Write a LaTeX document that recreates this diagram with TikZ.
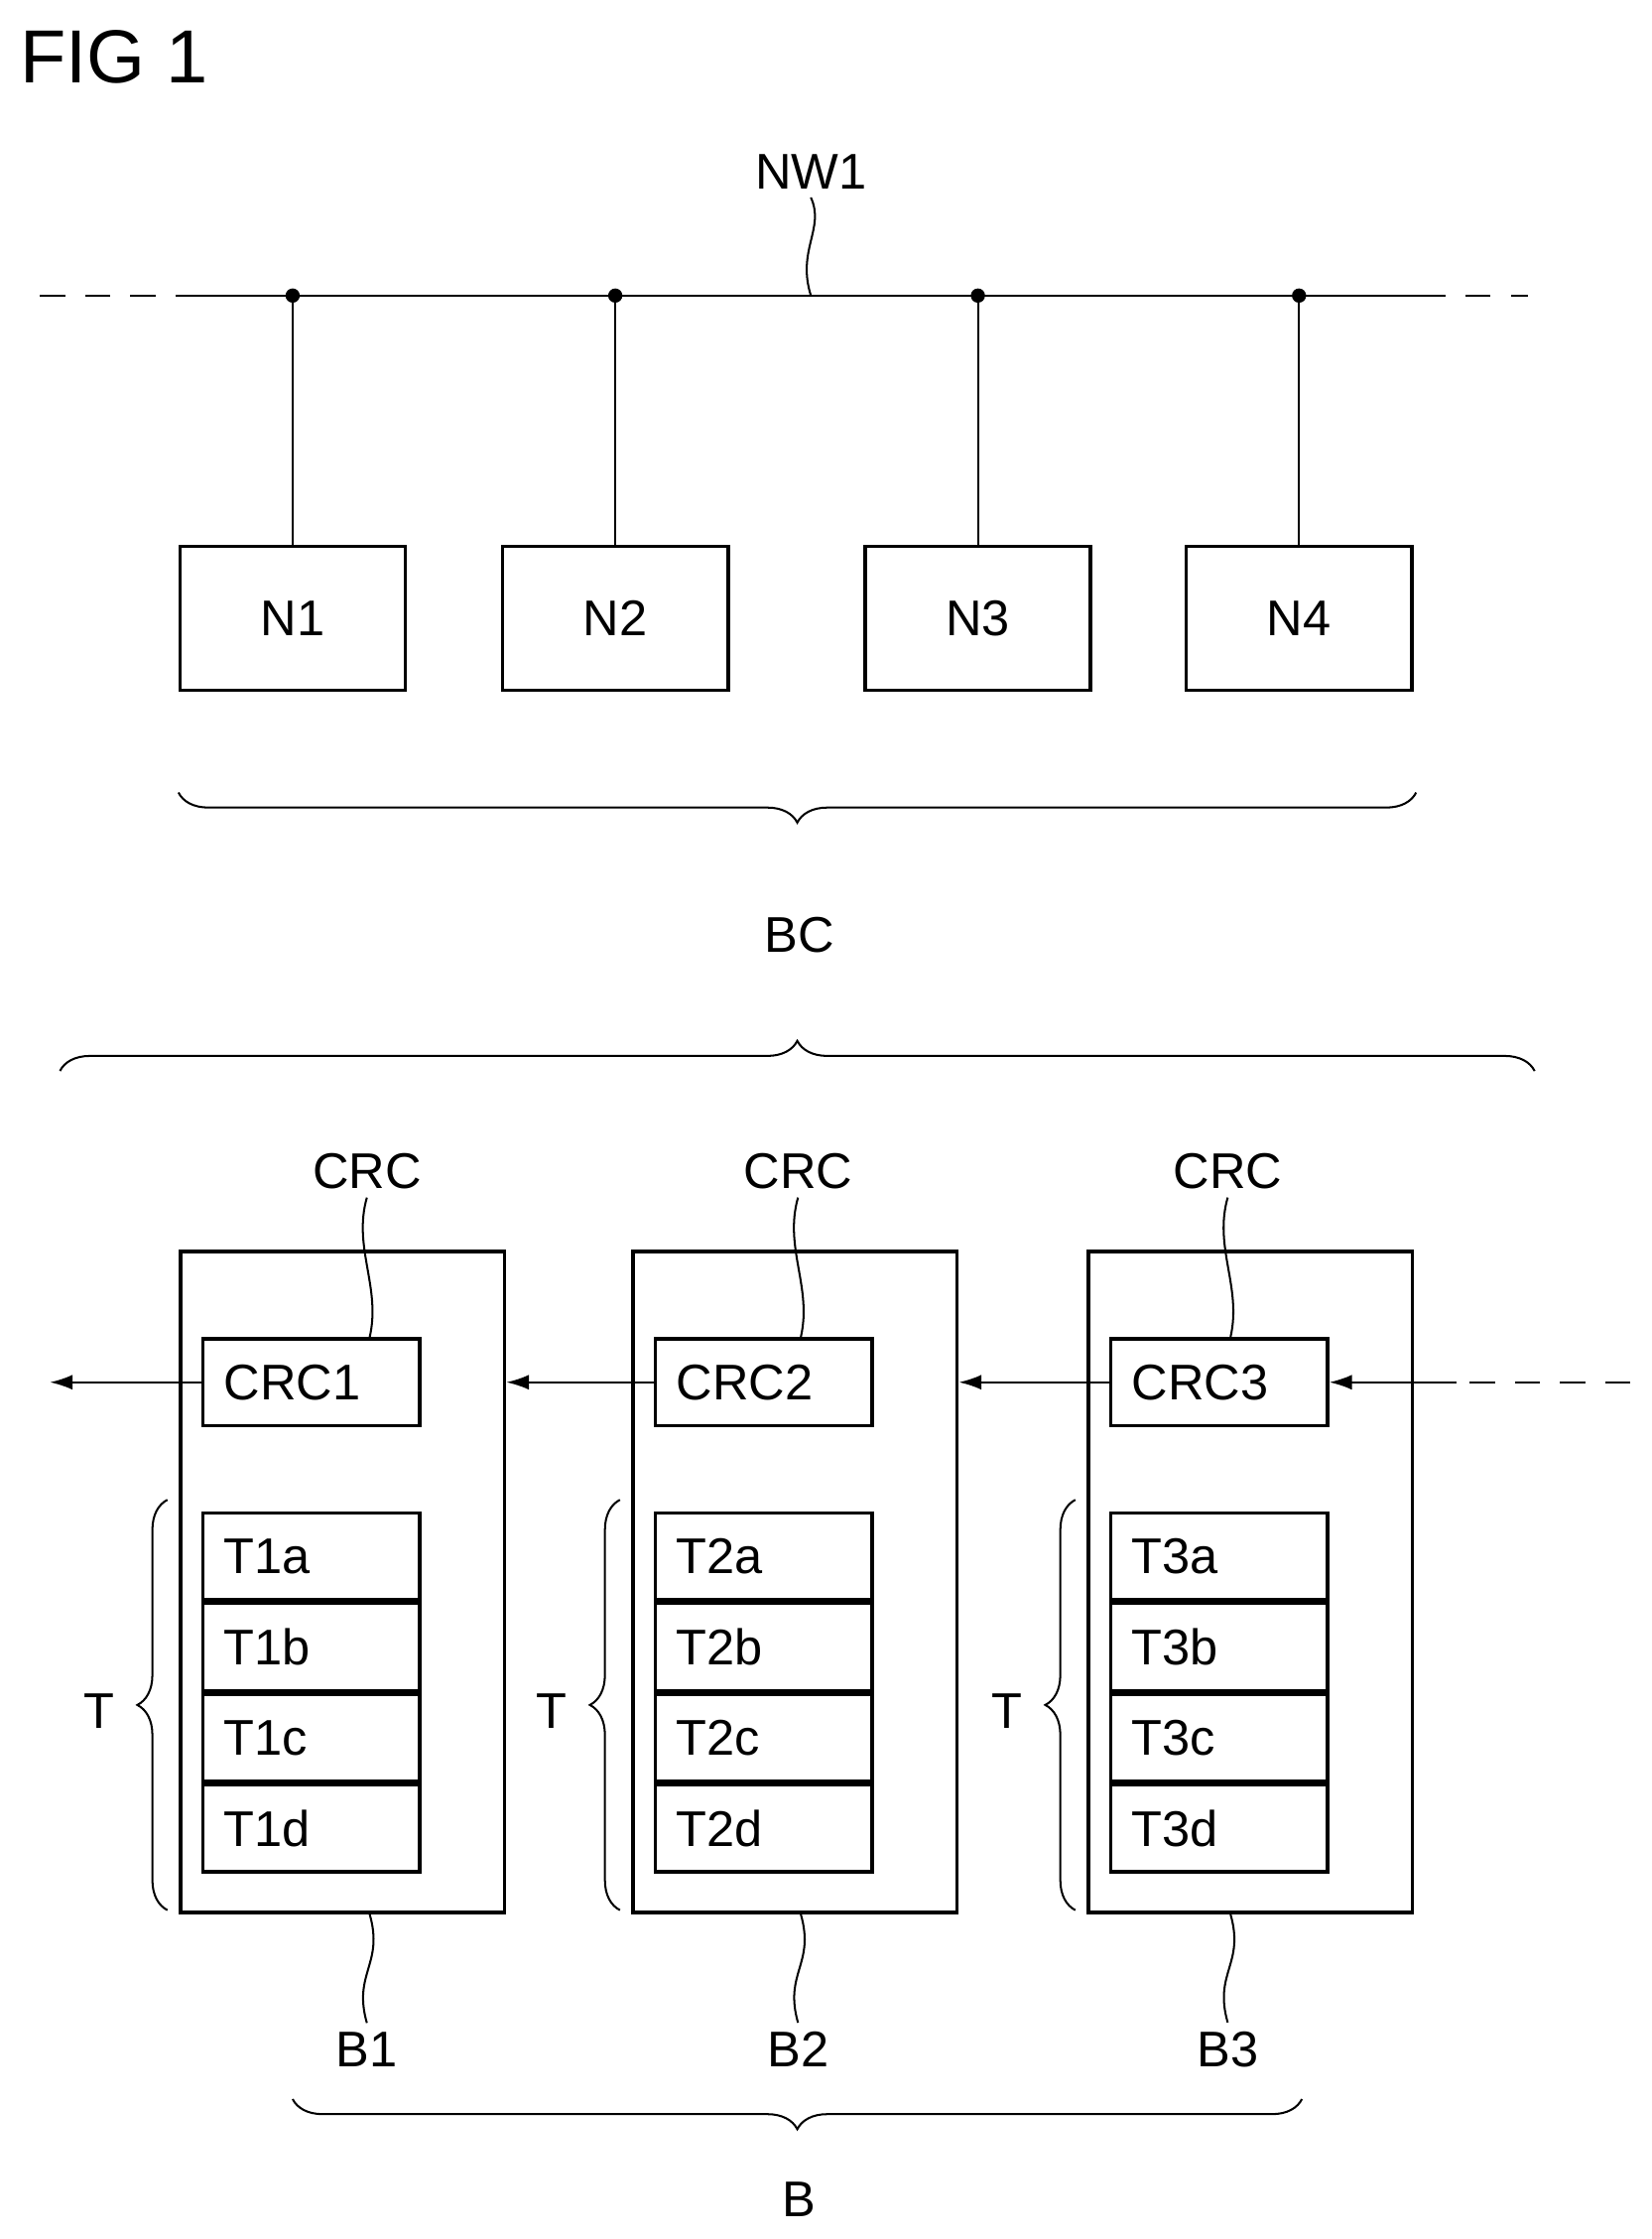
\documentclass[tikz,border=0pt]{standalone}
\usepackage{fontspec}
\setmainfont{Liberation Sans}
\usetikzlibrary{positioning, calc, decorations.pathreplacing, arrows.meta}

\begin{document}
\begin{tikzpicture}[x=0.02cm, y=-0.02cm,
    every node/.style={font=\fontsize{20}{24}\selectfont},
    nbox/.style={rectangle, draw, line width=1.4pt, minimum width=3.16cm, minimum height=2.02cm},
    blk/.style={rectangle, draw, line width=1.4pt, minimum width=4.54cm, minimum height=9.26cm},
    cell/.style={rectangle, draw, line width=1.4pt, minimum width=3.04cm, minimum height=1.22cm, text width=2.45cm, align=left, inner sep=0pt, text depth=0pt, xshift=0pt},
    wire/.style={line width=0.8pt},
    arrow/.style={-{Latex[length=9pt,width=6pt]}, line width=0.8pt},
    brc/.style={decorate, decoration={brace, amplitude=12pt}, line width=0.8pt},
    squig/.style={line width=0.8pt}
]
    \useasboundingbox (0,0) rectangle (1157,1568);
    \node[font=\fontsize{30}{34}\selectfont, anchor=west] (fig) at (8,40) {FIG 1};

    % network bus
    \coordinate (busL) at (125,207);
    \coordinate (busR) at (995,207);
    \draw[wire] (busL) -- (busR);
    \draw[wire, dashed, dash pattern=on 10pt off 8pt] (28,207) -- (busL);
    \draw[wire, dashed, dash pattern=on 10pt off 8pt] (busR) -- (1070,207);
    \node (nw) at (568,120) {NW1};
    \draw[squig] (nw.south) .. controls (578,160) and (558,175) .. (568,207);

    \foreach \n/\x in {1/205, 2/431, 3/685, 4/910} {
        \node[nbox] (N\n) at (\x,433) {N\n};
        \fill (\x,207) circle (5);
        \draw[wire] (\x,207) -- (N\n.north);
    }

    % braces
    \draw[brc] (992,555) -- (125,555);
    \node (bc) at (560,655) {BC};
    \draw[brc] (42,750) -- (1075,750);

    % blocks
    \foreach \b/\x/\lx in {1/240/257, 2/557/559, 3/876/860} {
        \node[blk] (B\b) at (\x,1108) {};
        \node[cell] (CRC\b) at (\x-22,968) {CRC\b};
        \node[cell] (T\b a) at (\x-22,1090) {T\b a};
        \node[cell, below=0pt of T\b a] (T\b b) {T\b b};
        \node[cell, below=0pt of T\b b] (T\b c) {T\b c};
        \node[cell, below=0pt of T\b c] (T\b d) {T\b d};
        \node (crcl\b) at (\lx,820) {CRC};
        \draw[squig] (crcl\b.south) .. controls ($(crcl\b.south)+(-10,35)$) and ($(crcl\b.south |- CRC\b.north)+(10,-35)$) .. ($(crcl\b.south |- CRC\b.north)+(2,0)$);
        \node (bl\b) at (\lx,1435) {B\b};
        \draw[squig] ($(bl\b.north |- B\b.south)+(2,0)$) .. controls ($(bl\b.north |- B\b.south)+(12,35)$) and ($(bl\b.north)+(-10,-35)$) .. (bl\b.north);
        \draw[brc] ($(B\b.south west)+(-8,-3)$) -- ($(B\b.north west)+(-8,175)$);
        \node (tl\b) at ($(B\b.west)+(-56,90)$) {T};
    }

    \coordinate (outL) at (35,968);
    \coordinate (inR) at (1142,968);
    \draw[arrow] (CRC1.west) -- (outL);
    \draw[arrow] (CRC2.west) -- (B1.east |- CRC2.west);
    \draw[arrow] (CRC3.west) -- (B2.east |- CRC3.west);
    \draw[wire, dashed, dash pattern=on 10pt off 8pt] (inR) -- (1020,968);
    \draw[arrow] (1020,968) -- (CRC3.east);

    \draw[brc] (912,1470) -- (205,1470);
    \node (b) at (560,1540) {B};
\end{tikzpicture}
\end{document}
